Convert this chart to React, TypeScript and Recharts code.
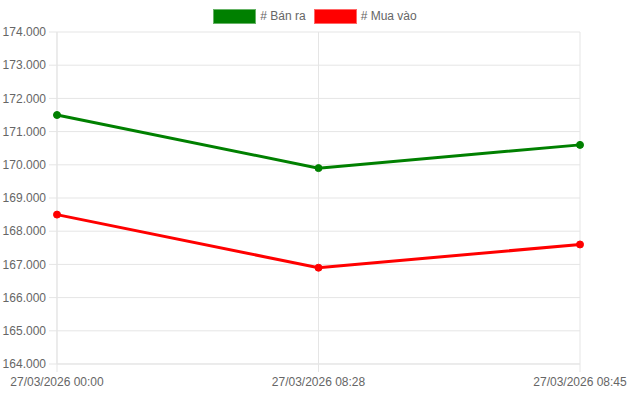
import { CartesianGrid, Legend, Line, LineChart, XAxis, YAxis } from "recharts";

const times = ["27/03/2026 00:00", "27/03/2026 08:28", "27/03/2026 08:45"];
const banRa = [171500, 169900, 170600];
const muaVao = [168500, 166900, 167600];
const yTicks = [164000, 165000, 166000, 167000, 168000, 169000, 170000, 171000, 172000, 173000, 174000];

const data = times.map((t, i) => ({ time: t, banRa: banRa[i], muaVao: muaVao[i] }));

const GRID = "#e5e5e5";
const TEXT = "#666";
const FONT = "'Liberation Sans', Arial, Helvetica, sans-serif";

const fmt = (v: number) => String(v).replace(/\B(?=(\d{3})+(?!\d))/g, ".");

function LegendBox() {
  const items = [
    { label: "# Bán ra", color: "#008000" },
    { label: "# Mua vào", color: "#ff0000" },
  ];
  return (
    <div
      style={{
        height: 24,
        display: "flex",
        justifyContent: "center",
        alignItems: "center",
        gap: 8,
        fontFamily: FONT,
        fontSize: 12,
        color: TEXT,
      }}
    >
      {items.map((it) => (
        <span key={it.label} style={{ display: "flex", alignItems: "center", gap: 4 }}>
          <span
            style={{
              display: "inline-block",
              width: 41,
              height: 13,
              background: it.color,
              border: "1px solid rgba(255,255,255,0.4)",
            }}
          />
          {it.label}
        </span>
      ))}
    </div>
  );
}

export default function App() {
  return (
    <div style={{ position: "absolute", left: 0, top: 0, background: "#fff" }}>
      <LineChart
        width={630}
        height={393}
        data={data}
        margin={{ top: 8, right: 50, bottom: 0, left: 0 }}
      >
        <Legend
          verticalAlign="top"
          content={() => <LegendBox />}
          wrapperStyle={{ top: 4, left: 0, width: 630 }}
        />
        <CartesianGrid stroke={GRID} />
        <XAxis
          dataKey="time"
          interval={0}
          height={29}
          tickSize={8}
          tickMargin={5}
          stroke={GRID}
          tick={{ fill: TEXT, fontSize: 12, fontFamily: FONT }}
        />
        <YAxis
          domain={[164000, 174000]}
          ticks={yTicks}
          width={57}
          tickSize={8}
          tickMargin={3}
          stroke={GRID}
          tickFormatter={fmt}
          tick={{ fill: TEXT, fontSize: 12, fontFamily: FONT }}
        />
        <Line
          dataKey="banRa"
          stroke="#008000"
          strokeWidth={3}
          dot={{ r: 3.5, fill: "#008000", stroke: "#008000", strokeWidth: 1 }}
          isAnimationActive={false}
        />
        <Line
          dataKey="muaVao"
          stroke="#ff0000"
          strokeWidth={3}
          dot={{ r: 3.5, fill: "#ff0000", stroke: "#ff0000", strokeWidth: 1 }}
          isAnimationActive={false}
        />
      </LineChart>
    </div>
  );
}
